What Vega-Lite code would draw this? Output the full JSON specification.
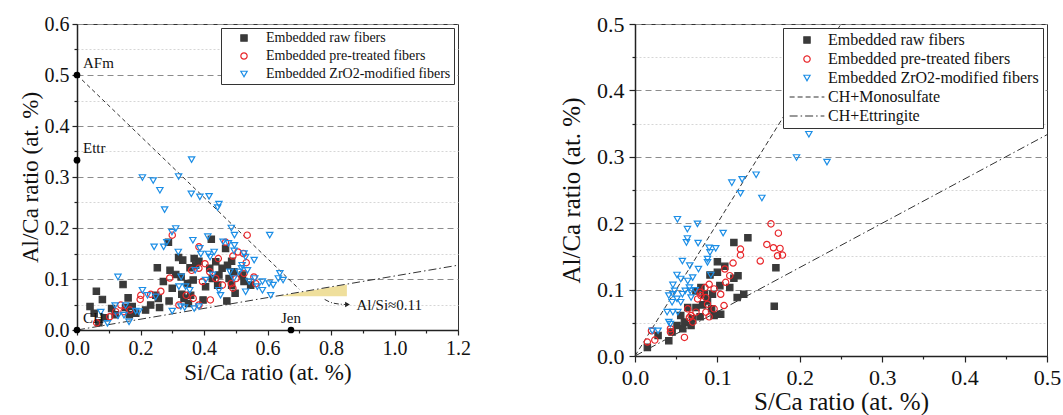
{
  "$schema": "https://vega.github.io/schema/vega-lite/v6.json",
  "padding": {"left": 18, "top": 12, "right": 0, "bottom": 0},
  "background": "white",
  "resolve": {"scale": {"shape": "independent", "stroke": "independent", "fill": "independent", "strokeDash": "independent", "color": "independent"}, "legend": {"shape": "independent", "stroke": "independent", "fill": "independent", "strokeDash": "independent"}},
  "config": {
    "font": "Times New Roman, Liberation Serif, DejaVu Serif, serif",
    "view": {"stroke": "#333", "strokeWidth": 1},
    "axis": {"domainColor": "#222", "domainWidth": 1.5, "tickColor": "#222", "tickWidth": 1.2, "labelFont": "Times New Roman, Liberation Serif, DejaVu Serif, serif", "titleFont": "Times New Roman, Liberation Serif, DejaVu Serif, serif", "labelColor": "#111", "titleColor": "#111", "titleFontWeight": "normal", "grid": false, "labelFlush": false},
    "legend": {"labelFont": "Times New Roman, Liberation Serif, DejaVu Serif, serif", "labelColor": "#111", "symbolStrokeWidth": 1.2, "labelLimit": 400},
    "text": {"font": "Times New Roman, Liberation Serif, DejaVu Serif, serif"}
  },
  "datasets": {
    "left_points": [
      {"series": "Embedded raw fibers", "x": 0.041, "y": 0.046}, {"series": "Embedded raw fibers", "x": 0.061, "y": 0.076}, {"series": "Embedded raw fibers", "x": 0.054, "y": 0.033}, {"series": "Embedded raw fibers", "x": 0.080, "y": 0.060}, {"series": "Embedded raw fibers", "x": 0.088, "y": 0.024}, {"series": "Embedded raw fibers", "x": 0.069, "y": 0.014}, {"series": "Embedded raw fibers", "x": 0.109, "y": 0.042}, {"series": "Embedded raw fibers", "x": 0.145, "y": 0.089}, {"series": "Embedded raw fibers", "x": 0.161, "y": 0.063}, {"series": "Embedded raw fibers", "x": 0.153, "y": 0.044}, {"series": "Embedded raw fibers", "x": 0.174, "y": 0.046}, {"series": "Embedded raw fibers", "x": 0.185, "y": 0.033}, {"series": "Embedded raw fibers", "x": 0.216, "y": 0.039}, {"series": "Embedded raw fibers", "x": 0.232, "y": 0.049}, {"series": "Embedded raw fibers", "x": 0.253, "y": 0.122}, {"series": "Embedded raw fibers", "x": 0.256, "y": 0.062}, {"series": "Embedded raw fibers", "x": 0.260, "y": 0.044}, {"series": "Embedded raw fibers", "x": 0.272, "y": 0.095}, {"series": "Embedded raw fibers", "x": 0.290, "y": 0.057}, {"series": "Embedded raw fibers", "x": 0.293, "y": 0.117}, {"series": "Embedded raw fibers", "x": 0.300, "y": 0.082}, {"series": "Embedded raw fibers", "x": 0.311, "y": 0.109}, {"series": "Embedded raw fibers", "x": 0.328, "y": 0.104}, {"series": "Embedded raw fibers", "x": 0.320, "y": 0.142}, {"series": "Embedded raw fibers", "x": 0.333, "y": 0.137}, {"series": "Embedded raw fibers", "x": 0.288, "y": 0.172}, {"series": "Embedded raw fibers", "x": 0.330, "y": 0.070}, {"series": "Embedded raw fibers", "x": 0.337, "y": 0.062}, {"series": "Embedded raw fibers", "x": 0.348, "y": 0.091}, {"series": "Embedded raw fibers", "x": 0.356, "y": 0.122}, {"series": "Embedded raw fibers", "x": 0.369, "y": 0.140}, {"series": "Embedded raw fibers", "x": 0.374, "y": 0.127}, {"series": "Embedded raw fibers", "x": 0.384, "y": 0.135}, {"series": "Embedded raw fibers", "x": 0.366, "y": 0.098}, {"series": "Embedded raw fibers", "x": 0.358, "y": 0.068}, {"series": "Embedded raw fibers", "x": 0.351, "y": 0.052}, {"series": "Embedded raw fibers", "x": 0.397, "y": 0.059}, {"series": "Embedded raw fibers", "x": 0.405, "y": 0.085}, {"series": "Embedded raw fibers", "x": 0.423, "y": 0.178}, {"series": "Embedded raw fibers", "x": 0.418, "y": 0.121}, {"series": "Embedded raw fibers", "x": 0.437, "y": 0.134}, {"series": "Embedded raw fibers", "x": 0.443, "y": 0.088}, {"series": "Embedded raw fibers", "x": 0.457, "y": 0.121}, {"series": "Embedded raw fibers", "x": 0.468, "y": 0.160}, {"series": "Embedded raw fibers", "x": 0.474, "y": 0.127}, {"series": "Embedded raw fibers", "x": 0.479, "y": 0.101}, {"series": "Embedded raw fibers", "x": 0.487, "y": 0.135}, {"series": "Embedded raw fibers", "x": 0.494, "y": 0.114}, {"series": "Embedded raw fibers", "x": 0.487, "y": 0.088}, {"series": "Embedded raw fibers", "x": 0.498, "y": 0.072}, {"series": "Embedded raw fibers", "x": 0.472, "y": 0.057}, {"series": "Embedded raw fibers", "x": 0.521, "y": 0.108}, {"series": "Embedded raw fibers", "x": 0.526, "y": 0.095}, {"series": "Embedded raw fibers", "x": 0.547, "y": 0.088}, {"series": "Embedded raw fibers", "x": 0.426, "y": 0.101}, {"series": "Embedded raw fibers", "x": 0.447, "y": 0.108}, {"series": "Embedded raw fibers", "x": 0.248, "y": 0.068}, {"series": "Embedded raw fibers", "x": 0.165, "y": 0.030}, {"series": "Embedded raw fibers", "x": 0.120, "y": 0.030},
      {"series": "Embedded pre-treated fibers", "x": 0.300, "y": 0.186}, {"series": "Embedded pre-treated fibers", "x": 0.536, "y": 0.186}, {"series": "Embedded pre-treated fibers", "x": 0.384, "y": 0.163}, {"series": "Embedded pre-treated fibers", "x": 0.468, "y": 0.172}, {"series": "Embedded pre-treated fibers", "x": 0.445, "y": 0.140}, {"series": "Embedded pre-treated fibers", "x": 0.507, "y": 0.153}, {"series": "Embedded pre-treated fibers", "x": 0.524, "y": 0.150}, {"series": "Embedded pre-treated fibers", "x": 0.491, "y": 0.145}, {"series": "Embedded pre-treated fibers", "x": 0.533, "y": 0.132}, {"series": "Embedded pre-treated fibers", "x": 0.384, "y": 0.121}, {"series": "Embedded pre-treated fibers", "x": 0.361, "y": 0.117}, {"series": "Embedded pre-treated fibers", "x": 0.403, "y": 0.130}, {"series": "Embedded pre-treated fibers", "x": 0.292, "y": 0.102}, {"series": "Embedded pre-treated fibers", "x": 0.418, "y": 0.114}, {"series": "Embedded pre-treated fibers", "x": 0.437, "y": 0.101}, {"series": "Embedded pre-treated fibers", "x": 0.458, "y": 0.088}, {"series": "Embedded pre-treated fibers", "x": 0.491, "y": 0.082}, {"series": "Embedded pre-treated fibers", "x": 0.526, "y": 0.111}, {"series": "Embedded pre-treated fibers", "x": 0.557, "y": 0.104}, {"series": "Embedded pre-treated fibers", "x": 0.563, "y": 0.091}, {"series": "Embedded pre-treated fibers", "x": 0.420, "y": 0.059}, {"series": "Embedded pre-treated fibers", "x": 0.384, "y": 0.049}, {"series": "Embedded pre-treated fibers", "x": 0.321, "y": 0.049}, {"series": "Embedded pre-treated fibers", "x": 0.344, "y": 0.068}, {"series": "Embedded pre-treated fibers", "x": 0.201, "y": 0.068}, {"series": "Embedded pre-treated fibers", "x": 0.199, "y": 0.060}, {"series": "Embedded pre-treated fibers", "x": 0.232, "y": 0.070}, {"series": "Embedded pre-treated fibers", "x": 0.264, "y": 0.076}, {"series": "Embedded pre-treated fibers", "x": 0.167, "y": 0.039}, {"series": "Embedded pre-treated fibers", "x": 0.138, "y": 0.049}, {"series": "Embedded pre-treated fibers", "x": 0.103, "y": 0.026}, {"series": "Embedded pre-treated fibers", "x": 0.062, "y": 0.014}, {"series": "Embedded pre-treated fibers", "x": 0.148, "y": 0.036}, {"series": "Embedded pre-treated fibers", "x": 0.122, "y": 0.036}, {"series": "Embedded pre-treated fibers", "x": 0.486, "y": 0.091}, {"series": "Embedded pre-treated fibers", "x": 0.501, "y": 0.101}, {"series": "Embedded pre-treated fibers", "x": 0.395, "y": 0.095}, {"series": "Embedded pre-treated fibers", "x": 0.366, "y": 0.062},
      {"series": "Embedded ZrO2-modified fibers", "x": 0.206, "y": 0.299}, {"series": "Embedded ZrO2-modified fibers", "x": 0.240, "y": 0.293}, {"series": "Embedded ZrO2-modified fibers", "x": 0.261, "y": 0.274}, {"series": "Embedded ZrO2-modified fibers", "x": 0.276, "y": 0.236}, {"series": "Embedded ZrO2-modified fibers", "x": 0.320, "y": 0.301}, {"series": "Embedded ZrO2-modified fibers", "x": 0.361, "y": 0.334}, {"series": "Embedded ZrO2-modified fibers", "x": 0.360, "y": 0.267}, {"series": "Embedded ZrO2-modified fibers", "x": 0.387, "y": 0.261}, {"series": "Embedded ZrO2-modified fibers", "x": 0.416, "y": 0.262}, {"series": "Embedded ZrO2-modified fibers", "x": 0.447, "y": 0.247}, {"series": "Embedded ZrO2-modified fibers", "x": 0.443, "y": 0.240}, {"series": "Embedded ZrO2-modified fibers", "x": 0.486, "y": 0.200}, {"series": "Embedded ZrO2-modified fibers", "x": 0.496, "y": 0.186}, {"series": "Embedded ZrO2-modified fibers", "x": 0.607, "y": 0.186}, {"series": "Embedded ZrO2-modified fibers", "x": 0.299, "y": 0.192}, {"series": "Embedded ZrO2-modified fibers", "x": 0.311, "y": 0.199}, {"series": "Embedded ZrO2-modified fibers", "x": 0.243, "y": 0.163}, {"series": "Embedded ZrO2-modified fibers", "x": 0.273, "y": 0.163}, {"series": "Embedded ZrO2-modified fibers", "x": 0.283, "y": 0.172}, {"series": "Embedded ZrO2-modified fibers", "x": 0.319, "y": 0.153}, {"series": "Embedded ZrO2-modified fibers", "x": 0.365, "y": 0.176}, {"series": "Embedded ZrO2-modified fibers", "x": 0.390, "y": 0.149}, {"series": "Embedded ZrO2-modified fibers", "x": 0.412, "y": 0.183}, {"series": "Embedded ZrO2-modified fibers", "x": 0.414, "y": 0.149}, {"series": "Embedded ZrO2-modified fibers", "x": 0.419, "y": 0.143}, {"series": "Embedded ZrO2-modified fibers", "x": 0.460, "y": 0.173}, {"series": "Embedded ZrO2-modified fibers", "x": 0.477, "y": 0.170}, {"series": "Embedded ZrO2-modified fibers", "x": 0.496, "y": 0.166}, {"series": "Embedded ZrO2-modified fibers", "x": 0.526, "y": 0.150}, {"series": "Embedded ZrO2-modified fibers", "x": 0.531, "y": 0.143}, {"series": "Embedded ZrO2-modified fibers", "x": 0.558, "y": 0.137}, {"series": "Embedded ZrO2-modified fibers", "x": 0.129, "y": 0.104}, {"series": "Embedded ZrO2-modified fibers", "x": 0.328, "y": 0.104}, {"series": "Embedded ZrO2-modified fibers", "x": 0.372, "y": 0.117}, {"series": "Embedded ZrO2-modified fibers", "x": 0.405, "y": 0.098}, {"series": "Embedded ZrO2-modified fibers", "x": 0.427, "y": 0.108}, {"series": "Embedded ZrO2-modified fibers", "x": 0.447, "y": 0.078}, {"series": "Embedded ZrO2-modified fibers", "x": 0.452, "y": 0.068}, {"series": "Embedded ZrO2-modified fibers", "x": 0.482, "y": 0.114}, {"series": "Embedded ZrO2-modified fibers", "x": 0.494, "y": 0.101}, {"series": "Embedded ZrO2-modified fibers", "x": 0.510, "y": 0.114}, {"series": "Embedded ZrO2-modified fibers", "x": 0.518, "y": 0.121}, {"series": "Embedded ZrO2-modified fibers", "x": 0.537, "y": 0.117}, {"series": "Embedded ZrO2-modified fibers", "x": 0.531, "y": 0.075}, {"series": "Embedded ZrO2-modified fibers", "x": 0.542, "y": 0.095}, {"series": "Embedded ZrO2-modified fibers", "x": 0.560, "y": 0.101}, {"series": "Embedded ZrO2-modified fibers", "x": 0.568, "y": 0.085}, {"series": "Embedded ZrO2-modified fibers", "x": 0.584, "y": 0.095}, {"series": "Embedded ZrO2-modified fibers", "x": 0.605, "y": 0.091}, {"series": "Embedded ZrO2-modified fibers", "x": 0.610, "y": 0.068}, {"series": "Embedded ZrO2-modified fibers", "x": 0.618, "y": 0.088}, {"series": "Embedded ZrO2-modified fibers", "x": 0.634, "y": 0.101}, {"series": "Embedded ZrO2-modified fibers", "x": 0.639, "y": 0.111}, {"series": "Embedded ZrO2-modified fibers", "x": 0.649, "y": 0.098}, {"series": "Embedded ZrO2-modified fibers", "x": 0.584, "y": 0.078}, {"series": "Embedded ZrO2-modified fibers", "x": 0.321, "y": 0.085}, {"series": "Embedded ZrO2-modified fibers", "x": 0.342, "y": 0.085}, {"series": "Embedded ZrO2-modified fibers", "x": 0.355, "y": 0.078}, {"series": "Embedded ZrO2-modified fibers", "x": 0.339, "y": 0.044}, {"series": "Embedded ZrO2-modified fibers", "x": 0.327, "y": 0.046}, {"series": "Embedded ZrO2-modified fibers", "x": 0.300, "y": 0.037}, {"series": "Embedded ZrO2-modified fibers", "x": 0.369, "y": 0.042}, {"series": "Embedded ZrO2-modified fibers", "x": 0.384, "y": 0.046}, {"series": "Embedded ZrO2-modified fibers", "x": 0.206, "y": 0.078}, {"series": "Embedded ZrO2-modified fibers", "x": 0.222, "y": 0.068}, {"series": "Embedded ZrO2-modified fibers", "x": 0.248, "y": 0.065}, {"series": "Embedded ZrO2-modified fibers", "x": 0.195, "y": 0.036}, {"series": "Embedded ZrO2-modified fibers", "x": 0.164, "y": 0.016}, {"series": "Embedded ZrO2-modified fibers", "x": 0.153, "y": 0.048}, {"series": "Embedded ZrO2-modified fibers", "x": 0.120, "y": 0.048}, {"series": "Embedded ZrO2-modified fibers", "x": 0.129, "y": 0.028}, {"series": "Embedded ZrO2-modified fibers", "x": 0.075, "y": 0.035}, {"series": "Embedded ZrO2-modified fibers", "x": 0.096, "y": 0.013}, {"series": "Embedded ZrO2-modified fibers", "x": 0.148, "y": 0.029}, {"series": "Embedded ZrO2-modified fibers", "x": 0.185, "y": 0.037}, {"series": "Embedded ZrO2-modified fibers", "x": 0.387, "y": 0.160}, {"series": "Embedded ZrO2-modified fibers", "x": 0.432, "y": 0.153}, {"series": "Embedded ZrO2-modified fibers", "x": 0.495, "y": 0.155}, {"series": "Embedded ZrO2-modified fibers", "x": 0.520, "y": 0.127}
    ],
    "left_afm_line": [{"x": 0, "y": 0.5}, {"x": 0.70, "y": 0.08}],
    "left_alsi_line": [{"x": 0, "y": 0}, {"x": 1.2, "y": 0.127}],
    "left_triangle": [{"x": 0.63, "y": 0.066, "y2": 0.066}, {"x": 0.85, "y": 0.089, "y2": 0.066}],
    "left_arrow": [{"x": 0.78, "y": 0.060}, {"x": 0.805, "y": 0.053}, {"x": 0.845, "y": 0.050}],
    "left_arrowhead": [{"x": 0.852, "y": 0.050}],
    "left_phases": [{"label": "AFm", "x": 0, "y": 0.5}, {"label": "Ettr", "x": 0, "y": 0.333}, {"label": "CH", "x": 0, "y": 0}, {"label": "Jen", "x": 0.674, "y": 0}],
    "left_note": [{"label": "Al/Si≈0.11", "x": 0.88, "y": 0.049}],
    "right_points": [
      {"series": "Embedded raw fibers", "x": 0.120, "y": 0.171}, {"series": "Embedded raw fibers", "x": 0.137, "y": 0.178}, {"series": "Embedded raw fibers", "x": 0.171, "y": 0.133}, {"series": "Embedded raw fibers", "x": 0.169, "y": 0.075}, {"series": "Embedded raw fibers", "x": 0.100, "y": 0.142}, {"series": "Embedded raw fibers", "x": 0.109, "y": 0.135}, {"series": "Embedded raw fibers", "x": 0.100, "y": 0.126}, {"series": "Embedded raw fibers", "x": 0.091, "y": 0.122}, {"series": "Embedded raw fibers", "x": 0.125, "y": 0.121}, {"series": "Embedded raw fibers", "x": 0.120, "y": 0.117}, {"series": "Embedded raw fibers", "x": 0.115, "y": 0.103}, {"series": "Embedded raw fibers", "x": 0.103, "y": 0.106}, {"series": "Embedded raw fibers", "x": 0.124, "y": 0.088}, {"series": "Embedded raw fibers", "x": 0.132, "y": 0.093}, {"series": "Embedded raw fibers", "x": 0.080, "y": 0.103}, {"series": "Embedded raw fibers", "x": 0.074, "y": 0.098}, {"series": "Embedded raw fibers", "x": 0.084, "y": 0.093}, {"series": "Embedded raw fibers", "x": 0.094, "y": 0.093}, {"series": "Embedded raw fibers", "x": 0.088, "y": 0.083}, {"series": "Embedded raw fibers", "x": 0.082, "y": 0.077}, {"series": "Embedded raw fibers", "x": 0.074, "y": 0.073}, {"series": "Embedded raw fibers", "x": 0.064, "y": 0.073}, {"series": "Embedded raw fibers", "x": 0.104, "y": 0.063}, {"series": "Embedded raw fibers", "x": 0.096, "y": 0.061}, {"series": "Embedded raw fibers", "x": 0.093, "y": 0.071}, {"series": "Embedded raw fibers", "x": 0.070, "y": 0.056}, {"series": "Embedded raw fibers", "x": 0.060, "y": 0.051}, {"series": "Embedded raw fibers", "x": 0.068, "y": 0.046}, {"series": "Embedded raw fibers", "x": 0.058, "y": 0.041}, {"series": "Embedded raw fibers", "x": 0.051, "y": 0.046}, {"series": "Embedded raw fibers", "x": 0.045, "y": 0.036}, {"series": "Embedded raw fibers", "x": 0.041, "y": 0.023}, {"series": "Embedded raw fibers", "x": 0.028, "y": 0.031}, {"series": "Embedded raw fibers", "x": 0.015, "y": 0.013}, {"series": "Embedded raw fibers", "x": 0.0555, "y": 0.061}, {"series": "Embedded raw fibers", "x": 0.079, "y": 0.059},
      {"series": "Embedded pre-treated fibers", "x": 0.165, "y": 0.199}, {"series": "Embedded pre-treated fibers", "x": 0.174, "y": 0.185}, {"series": "Embedded pre-treated fibers", "x": 0.128, "y": 0.161}, {"series": "Embedded pre-treated fibers", "x": 0.128, "y": 0.152}, {"series": "Embedded pre-treated fibers", "x": 0.160, "y": 0.168}, {"series": "Embedded pre-treated fibers", "x": 0.168, "y": 0.163}, {"series": "Embedded pre-treated fibers", "x": 0.176, "y": 0.162}, {"series": "Embedded pre-treated fibers", "x": 0.173, "y": 0.151}, {"series": "Embedded pre-treated fibers", "x": 0.179, "y": 0.152}, {"series": "Embedded pre-treated fibers", "x": 0.152, "y": 0.143}, {"series": "Embedded pre-treated fibers", "x": 0.119, "y": 0.140}, {"series": "Embedded pre-treated fibers", "x": 0.115, "y": 0.121}, {"series": "Embedded pre-treated fibers", "x": 0.109, "y": 0.131}, {"series": "Embedded pre-treated fibers", "x": 0.110, "y": 0.111}, {"series": "Embedded pre-treated fibers", "x": 0.104, "y": 0.093}, {"series": "Embedded pre-treated fibers", "x": 0.108, "y": 0.076}, {"series": "Embedded pre-treated fibers", "x": 0.096, "y": 0.101}, {"series": "Embedded pre-treated fibers", "x": 0.090, "y": 0.108}, {"series": "Embedded pre-treated fibers", "x": 0.085, "y": 0.103}, {"series": "Embedded pre-treated fibers", "x": 0.080, "y": 0.091}, {"series": "Embedded pre-treated fibers", "x": 0.076, "y": 0.086}, {"series": "Embedded pre-treated fibers", "x": 0.086, "y": 0.088}, {"series": "Embedded pre-treated fibers", "x": 0.088, "y": 0.078}, {"series": "Embedded pre-treated fibers", "x": 0.096, "y": 0.071}, {"series": "Embedded pre-treated fibers", "x": 0.086, "y": 0.066}, {"series": "Embedded pre-treated fibers", "x": 0.090, "y": 0.059}, {"series": "Embedded pre-treated fibers", "x": 0.074, "y": 0.066}, {"series": "Embedded pre-treated fibers", "x": 0.068, "y": 0.061}, {"series": "Embedded pre-treated fibers", "x": 0.064, "y": 0.071}, {"series": "Embedded pre-treated fibers", "x": 0.070, "y": 0.051}, {"series": "Embedded pre-treated fibers", "x": 0.060, "y": 0.028}, {"series": "Embedded pre-treated fibers", "x": 0.043, "y": 0.041}, {"series": "Embedded pre-treated fibers", "x": 0.043, "y": 0.036}, {"series": "Embedded pre-treated fibers", "x": 0.024, "y": 0.024}, {"series": "Embedded pre-treated fibers", "x": 0.015, "y": 0.021}, {"series": "Embedded pre-treated fibers", "x": 0.020, "y": 0.038}, {"series": "Embedded pre-treated fibers", "x": 0.066, "y": 0.058}, {"series": "Embedded pre-treated fibers", "x": 0.079, "y": 0.096},
      {"series": "Embedded ZrO2-modified fibers", "x": 0.0515, "y": 0.206}, {"series": "Embedded ZrO2-modified fibers", "x": 0.0636, "y": 0.191}, {"series": "Embedded ZrO2-modified fibers", "x": 0.0758, "y": 0.199}, {"series": "Embedded ZrO2-modified fibers", "x": 0.0636, "y": 0.177}, {"series": "Embedded ZrO2-modified fibers", "x": 0.0624, "y": 0.171}, {"series": "Embedded ZrO2-modified fibers", "x": 0.0766, "y": 0.170}, {"series": "Embedded ZrO2-modified fibers", "x": 0.107, "y": 0.185}, {"series": "Embedded ZrO2-modified fibers", "x": 0.0575, "y": 0.143}, {"series": "Embedded ZrO2-modified fibers", "x": 0.0665, "y": 0.136}, {"series": "Embedded ZrO2-modified fibers", "x": 0.077, "y": 0.131}, {"series": "Embedded ZrO2-modified fibers", "x": 0.090, "y": 0.163}, {"series": "Embedded ZrO2-modified fibers", "x": 0.098, "y": 0.162}, {"series": "Embedded ZrO2-modified fibers", "x": 0.091, "y": 0.156}, {"series": "Embedded ZrO2-modified fibers", "x": 0.088, "y": 0.146}, {"series": "Embedded ZrO2-modified fibers", "x": 0.088, "y": 0.141}, {"series": "Embedded ZrO2-modified fibers", "x": 0.092, "y": 0.122}, {"series": "Embedded ZrO2-modified fibers", "x": 0.1175, "y": 0.261}, {"series": "Embedded ZrO2-modified fibers", "x": 0.130, "y": 0.266}, {"series": "Embedded ZrO2-modified fibers", "x": 0.128, "y": 0.245}, {"series": "Embedded ZrO2-modified fibers", "x": 0.147, "y": 0.273}, {"series": "Embedded ZrO2-modified fibers", "x": 0.154, "y": 0.238}, {"series": "Embedded ZrO2-modified fibers", "x": 0.196, "y": 0.299}, {"series": "Embedded ZrO2-modified fibers", "x": 0.211, "y": 0.334}, {"series": "Embedded ZrO2-modified fibers", "x": 0.233, "y": 0.292}, {"series": "Embedded ZrO2-modified fibers", "x": 0.051, "y": 0.122}, {"series": "Embedded ZrO2-modified fibers", "x": 0.0555, "y": 0.116}, {"series": "Embedded ZrO2-modified fibers", "x": 0.046, "y": 0.107}, {"series": "Embedded ZrO2-modified fibers", "x": 0.041, "y": 0.091}, {"series": "Embedded ZrO2-modified fibers", "x": 0.046, "y": 0.093}, {"series": "Embedded ZrO2-modified fibers", "x": 0.061, "y": 0.098}, {"series": "Embedded ZrO2-modified fibers", "x": 0.066, "y": 0.103}, {"series": "Embedded ZrO2-modified fibers", "x": 0.070, "y": 0.118}, {"series": "Embedded ZrO2-modified fibers", "x": 0.064, "y": 0.113}, {"series": "Embedded ZrO2-modified fibers", "x": 0.067, "y": 0.098}, {"series": "Embedded ZrO2-modified fibers", "x": 0.073, "y": 0.099}, {"series": "Embedded ZrO2-modified fibers", "x": 0.051, "y": 0.086}, {"series": "Embedded ZrO2-modified fibers", "x": 0.0575, "y": 0.093}, {"series": "Embedded ZrO2-modified fibers", "x": 0.039, "y": 0.066}, {"series": "Embedded ZrO2-modified fibers", "x": 0.046, "y": 0.066}, {"series": "Embedded ZrO2-modified fibers", "x": 0.052, "y": 0.066}, {"series": "Embedded ZrO2-modified fibers", "x": 0.043, "y": 0.048}, {"series": "Embedded ZrO2-modified fibers", "x": 0.041, "y": 0.051}, {"series": "Embedded ZrO2-modified fibers", "x": 0.021, "y": 0.038}, {"series": "Embedded ZrO2-modified fibers", "x": 0.028, "y": 0.038}, {"series": "Embedded ZrO2-modified fibers", "x": 0.045, "y": 0.081}, {"series": "Embedded ZrO2-modified fibers", "x": 0.0555, "y": 0.081}, {"series": "Embedded ZrO2-modified fibers", "x": 0.068, "y": 0.088}, {"series": "Embedded ZrO2-modified fibers", "x": 0.048, "y": 0.098}
    ],
    "right_lines": [
      {"series": "CH+Monosulfate", "x": 0, "y": 0}, {"series": "CH+Monosulfate", "x": 0.25, "y": 0.5},
      {"series": "CH+Ettringite", "x": 0, "y": 0}, {"series": "CH+Ettringite", "x": 0.5, "y": 0.3333}
    ]
  },
  "hconcat": [
    {
      "width": 381,
      "height": 306,
      "resolve": {"axis": {"x": "independent", "y": "independent"}},
      "layer": [
        {
          "data": {"name": "left_triangle"},
          "mark": {"type": "area", "color": "#efdf9c", "opacity": 1},
          "encoding": {
            "x": {"field": "x", "type": "quantitative", "scale": {"domain": [0, 1.2], "nice": false}, "axis": null},
            "y": {"field": "y", "type": "quantitative", "scale": {"domain": [0, 0.6], "nice": false}, "axis": null},
            "y2": {"field": "y2"}
          }
        },
        {
          "data": {"name": "left_alsi_line"},
          "mark": {"type": "line", "color": "#333", "strokeWidth": 1, "strokeDash": [8, 3, 1.5, 3]},
          "encoding": {
            "x": {"field": "x", "type": "quantitative", "axis": {"orient": "bottom", "values": [0.1, 0.3, 0.5, 0.7, 0.9, 1.1], "labels": false, "domain": false, "tickSize": 3, "title": null, "grid": false}},
            "y": {"field": "y", "type": "quantitative", "axis": {"orient": "left", "values": [0.05, 0.15, 0.25, 0.35, 0.45, 0.55], "labels": false, "domain": false, "tickSize": 3, "title": null, "grid": true, "gridColor": "#d6d6d6", "gridDash": [2, 2], "gridWidth": 1}}
          }
        },
        {
          "data": {"name": "left_afm_line"},
          "mark": {"type": "line", "color": "#333", "strokeWidth": 1, "strokeDash": [4, 3]},
          "encoding": {
            "x": {"field": "x", "type": "quantitative", "axis": null},
            "y": {"field": "y", "type": "quantitative", "axis": null}
          }
        },
        {
          "data": {"name": "left_arrow"},
          "mark": {"type": "line", "color": "#333", "strokeWidth": 1, "strokeDash": [5, 2, 1, 2], "interpolate": "monotone"},
          "encoding": {
            "x": {"field": "x", "type": "quantitative", "axis": null},
            "y": {"field": "y", "type": "quantitative", "axis": null}
          }
        },
        {
          "data": {"name": "left_arrowhead"},
          "mark": {"type": "point", "shape": "triangle-right", "filled": true, "color": "#222", "size": 30, "opacity": 1},
          "encoding": {
            "x": {"field": "x", "type": "quantitative", "axis": null},
            "y": {"field": "y", "type": "quantitative", "axis": null}
          }
        },
        {
          "data": {"name": "left_points"},
          "mark": {"type": "point", "size": 40, "strokeWidth": 1.2, "opacity": 1},
          "encoding": {
            "x": {"field": "x", "type": "quantitative", "axis": {"orient": "bottom", "title": "Si/Ca ratio (at. %)", "values": [0, 0.2, 0.4, 0.6, 0.8, 1.0, 1.2], "format": ".1f", "labelFontSize": 20, "titleFontSize": 23, "tickSize": 5, "labelPadding": 3, "titlePadding": 3}},
            "y": {"field": "y", "type": "quantitative", "axis": {"orient": "left", "title": "Al/Ca ratio (at. %)", "values": [0, 0.1, 0.2, 0.3, 0.4, 0.5, 0.6], "format": ".1f", "labelFontSize": 20, "titleFontSize": 23, "tickSize": 5, "labelPadding": 3, "titlePadding": 2, "grid": true, "gridColor": "#8c8c8c", "gridDash": [6, 4], "gridWidth": 1}},
            "shape": {"field": "series", "type": "nominal", "scale": {"domain": ["Embedded raw fibers", "Embedded pre-treated fibers", "Embedded ZrO2-modified fibers"], "range": ["square", "circle", "triangle-down"]}, "legend": {"title": null, "orient": "top-right", "offset": 4, "padding": 3, "strokeColor": "#333", "fillColor": "#ffffff", "labelFontSize": 14, "symbolSize": 40, "rowPadding": 4, "symbolOffset": 13, "labelOffset": 15}},
            "stroke": {"field": "series", "type": "nominal", "scale": {"domain": ["Embedded raw fibers", "Embedded pre-treated fibers", "Embedded ZrO2-modified fibers"], "range": ["#3a3a3a", "#e8262a", "#1c8ee6"]}, "legend": {"title": null, "orient": "top-right", "offset": 4, "padding": 3, "strokeColor": "#333", "fillColor": "#ffffff", "labelFontSize": 14, "symbolSize": 40, "rowPadding": 4, "symbolOffset": 13, "labelOffset": 15}},
            "fill": {"field": "series", "type": "nominal", "scale": {"domain": ["Embedded raw fibers", "Embedded pre-treated fibers", "Embedded ZrO2-modified fibers"], "range": ["#3a3a3a", "transparent", "transparent"]}, "legend": {"title": null, "orient": "top-right", "offset": 4, "padding": 3, "strokeColor": "#333", "fillColor": "#ffffff", "labelFontSize": 14, "symbolSize": 40, "rowPadding": 4, "symbolOffset": 13, "labelOffset": 15}}
          }
        },
        {
          "data": {"name": "left_phases"},
          "mark": {"type": "point", "shape": "circle", "filled": true, "color": "#000", "size": 45, "opacity": 1},
          "encoding": {
            "x": {"field": "x", "type": "quantitative", "axis": null},
            "y": {"field": "y", "type": "quantitative", "axis": null}
          }
        },
        {
          "data": {"name": "left_phases"},
          "transform": [{"filter": "datum.label !== 'Jen'"}],
          "mark": {"type": "text", "align": "left", "baseline": "middle", "dx": 6, "dy": -12, "fontSize": 15, "color": "#111"},
          "encoding": {
            "x": {"field": "x", "type": "quantitative", "axis": null},
            "y": {"field": "y", "type": "quantitative", "axis": null},
            "text": {"field": "label"}
          }
        },
        {
          "data": {"name": "left_phases"},
          "transform": [{"filter": "datum.label === 'Jen'"}],
          "mark": {"type": "text", "align": "center", "baseline": "middle", "dy": -12, "fontSize": 15, "color": "#111"},
          "encoding": {
            "x": {"field": "x", "type": "quantitative", "axis": null},
            "y": {"field": "y", "type": "quantitative", "axis": null},
            "text": {"field": "label"}
          }
        },
        {
          "data": {"name": "left_note"},
          "mark": {"type": "text", "align": "left", "baseline": "middle", "fontSize": 15, "color": "#111"},
          "encoding": {
            "x": {"field": "x", "type": "quantitative", "axis": null},
            "y": {"field": "y", "type": "quantitative", "axis": null},
            "text": {"field": "label"}
          }
        }
      ]
    },
    {
      "width": 412,
      "height": 332,
      "resolve": {"axis": {"x": "independent", "y": "independent"}},
      "layer": [
        {
          "data": {"name": "right_lines"},
          "mark": {"type": "line", "strokeWidth": 1},
          "encoding": {
            "x": {"field": "x", "type": "quantitative", "scale": {"domain": [0, 0.5], "nice": false}, "axis": {"orient": "bottom", "values": [0.05, 0.15, 0.25, 0.35, 0.45], "labels": false, "domain": false, "tickSize": 3, "title": null, "grid": false}},
            "y": {"field": "y", "type": "quantitative", "scale": {"domain": [0, 0.5], "nice": false}, "axis": {"orient": "left", "values": [0.05, 0.15, 0.25, 0.35, 0.45], "labels": false, "domain": false, "tickSize": 3, "title": null, "grid": true, "gridColor": "#d6d6d6", "gridDash": [2, 2], "gridWidth": 1}},
            "stroke": {"field": "series", "type": "nominal", "legend": {"title": null, "orient": "top-right", "offset": 4, "padding": 4, "strokeColor": "#333", "fillColor": "#ffffff", "labelFontSize": 16, "symbolSize": 40, "rowPadding": 3, "symbolOffset": 12, "labelOffset": 13}},
            "strokeDash": {"field": "series", "type": "nominal", "scale": {"domain": ["Embedded raw fibers", "Embedded pre-treated fibers", "Embedded ZrO2-modified fibers", "CH+Monosulfate", "CH+Ettringite"], "range": [[1, 0], [1, 0], [1, 0], [5, 3], [8, 3, 1.5, 3]]}, "legend": {"title": null, "orient": "top-right", "offset": 4, "padding": 4, "strokeColor": "#333", "fillColor": "#ffffff", "labelFontSize": 16, "symbolSize": 40, "rowPadding": 3, "symbolOffset": 12, "labelOffset": 13}}
          }
        },
        {
          "data": {"name": "right_points"},
          "mark": {"type": "point", "size": 40, "strokeWidth": 1.2, "opacity": 1},
          "encoding": {
            "x": {"field": "x", "type": "quantitative", "axis": {"orient": "bottom", "title": "S/Ca ratio (at. %)", "values": [0, 0.1, 0.2, 0.3, 0.4, 0.5], "format": ".1f", "labelFontSize": 22, "titleFontSize": 25, "tickSize": 6, "labelPadding": 5, "titlePadding": 1}},
            "y": {"field": "y", "type": "quantitative", "axis": {"orient": "left", "title": "Al/Ca ratio (at. %)", "values": [0, 0.1, 0.2, 0.3, 0.4, 0.5], "format": ".1f", "labelFontSize": 22, "titleFontSize": 25, "tickSize": 6, "labelPadding": 5, "titlePadding": 12, "grid": true, "gridColor": "#8c8c8c", "gridDash": [6, 4], "gridWidth": 1}},
            "shape": {"field": "series", "type": "nominal", "scale": {"domain": ["Embedded raw fibers", "Embedded pre-treated fibers", "Embedded ZrO2-modified fibers", "CH+Monosulfate", "CH+Ettringite"], "range": ["square", "circle", "triangle-down", "M-5.5,0H5.5", "M-5.5,0H5.5"]}, "legend": {"title": null, "orient": "top-right", "offset": 4, "padding": 4, "strokeColor": "#333", "fillColor": "#ffffff", "labelFontSize": 16, "symbolSize": 40, "rowPadding": 3, "symbolOffset": 12, "labelOffset": 13}},
            "stroke": {"field": "series", "type": "nominal", "scale": {"domain": ["Embedded raw fibers", "Embedded pre-treated fibers", "Embedded ZrO2-modified fibers", "CH+Monosulfate", "CH+Ettringite"], "range": ["#3a3a3a", "#e8262a", "#1c8ee6", "#333333", "#333333"]}, "legend": {"title": null, "orient": "top-right", "offset": 4, "padding": 4, "strokeColor": "#333", "fillColor": "#ffffff", "labelFontSize": 16, "symbolSize": 40, "rowPadding": 3, "symbolOffset": 12, "labelOffset": 13}},
            "fill": {"field": "series", "type": "nominal", "scale": {"domain": ["Embedded raw fibers", "Embedded pre-treated fibers", "Embedded ZrO2-modified fibers", "CH+Monosulfate", "CH+Ettringite"], "range": ["#3a3a3a", "transparent", "transparent", "transparent", "transparent"]}, "legend": {"title": null, "orient": "top-right", "offset": 4, "padding": 4, "strokeColor": "#333", "fillColor": "#ffffff", "labelFontSize": 16, "symbolSize": 40, "rowPadding": 3, "symbolOffset": 12, "labelOffset": 13}}
          }
        }
      ]
    }
  ],
  "spacing": 88
}
